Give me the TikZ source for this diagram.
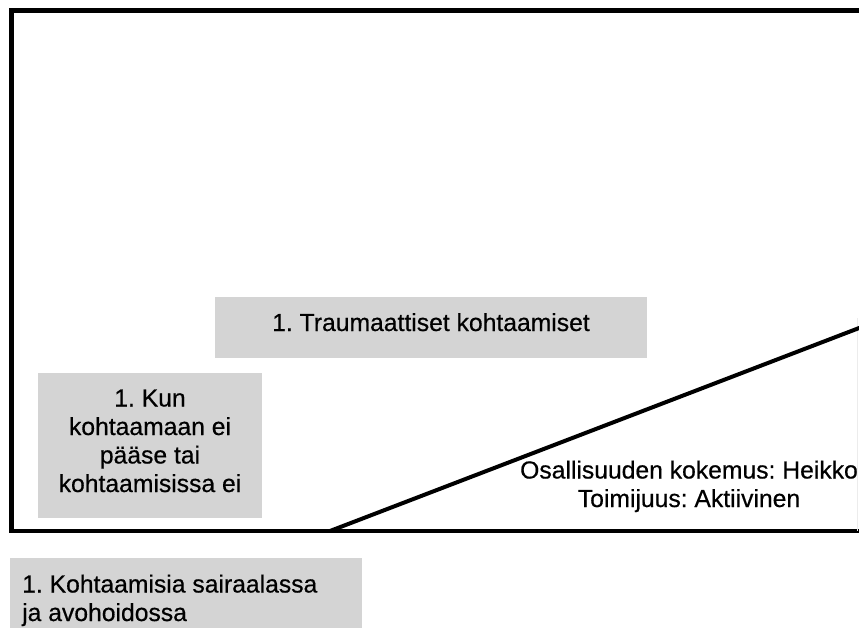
\documentclass[tikz,border=0pt]{standalone}
\usepackage{fontspec}
\setmainfont{Liberation Sans}[FakeBold=0.5]
\frenchspacing
\definecolor{boxgray}{RGB}{212,212,212}
\begin{document}
\begin{tikzpicture}[x=1pt,y=-1pt,
  graybox/.style={fill=boxgray, draw=none, inner sep=0pt, outer sep=0pt, anchor=north west},
  txt/.style={inner sep=0pt, font=\fontsize{24.7}{28.5}\selectfont, align=center, anchor=base},
  frame/.style={line width=4.5pt},
  slope/.style={line width=4pt}]
\useasboundingbox (0,0) rectangle (859,628);
\begin{scope}
\clip (0,0) rectangle (859,628);
% outer frame, running past the right edge
\draw[frame] (11.5,10.5) rectangle (880,531);
% faint right edge of the label area
\draw[gray!15, line width=1pt] (857.5,318) -- (857.5,531);
% grey category boxes
\node[graybox, minimum width=432pt, minimum height=61pt] (trauma) at (215,297) {};
\node[graybox, minimum width=224pt, minimum height=145pt] (kun) at (38,373) {};
\node[graybox, minimum width=352pt, minimum height=80pt] (hoito) at (10,558) {};
% texts (multi-line nodes sit on the baseline of their last line)
\node[txt] (traumatxt) at (431,331) {1. Traumaattiset kohtaamiset};
\node[txt] (kuntxt) at (150,492) {1. Kun\\kohtaamaan ei\\pääse tai\\kohtaamisissa ei};
\node[txt, align=left, anchor=base west] (hoitotxt) at (22,621) {1. Kohtaamisia sairaalassa\\ja avohoidossa};
\node[txt] (osatxt) at (689,507) {Osallisuuden kokemus: Heikko\\Toimijuus: Aktiivinen};
% rising diagonal
\coordinate (d0) at (330,531);
\coordinate (d1) at (880,320);
\draw[slope] (d0) -- (d1);
\end{scope}
\end{tikzpicture}
\end{document}
